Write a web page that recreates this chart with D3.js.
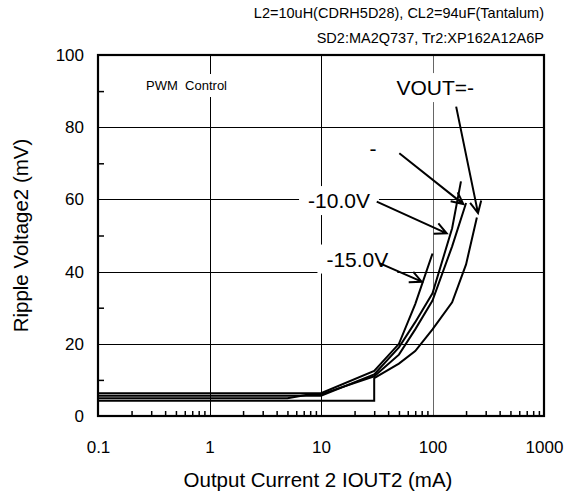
<!DOCTYPE html>
<html><head><meta charset="utf-8">
<script src="https://cdn.jsdelivr.net/npm/d3@7"></script>
<style>
html,body{margin:0;padding:0;background:#fff;}
svg text{font-family:"Liberation Sans",Arial,sans-serif;fill:#000;}
</style></head>
<body><svg id="c" width="578" height="492"></svg>
<script>
// ---- data ----
const xTickValues = [0.1, 1, 10, 100, 1000];
const xTickLabels = ["0.1", "1", "10", "100", "1000"];
const yTickValues = [0, 20, 40, 60, 80, 100];
const yTickLabels = ["0", "20", "40", "60", "80", "100"];

const seriesNames = ["-15.0V", "-10.0V", "-", "VOUT=-"];
const currentA = [0.1, 10, 30, 50, 70, 100];
const rippleA  = [6.3, 6.3, 12.5, 20, 31, 45];
const currentB = [0.1, 10, 30, 50, 70, 100, 150, 180];
const rippleB  = [5.6, 5.6, 11.5, 19, 26, 34, 52, 65];
const currentC = [0.1, 5, 8, 10, 30, 50, 70, 100, 150, 200];
const rippleC  = [4.9, 4.9, 6, 6, 11, 17, 24, 32, 47, 59];
const currentD = [0.1, 30, 30, 50, 70, 100, 150, 200, 250];
const rippleD  = [4.2, 4.2, 10.5, 14.5, 18, 24, 31.5, 42, 55];

const headerLines = ["L2=10uH(CDRH5D28), CL2=94uF(Tantalum)", "SD2:MA2Q737, Tr2:XP162A12A6P"];
const xTitle = "Output Current 2 IOUT2 (mA)";
const yTitle = "Ripple Voltage2 (mV)";
const noteText = "PWM  Control";
const noteX = 0.27, noteY = 90.3;
// annotation text anchors and arrows in data units (mA, mV)
const noteLabels = ["VOUT=-", "-", "-10.0V", "-15.0V"];
const noteLabelX = [106, 29.3, 14.5, 21.2];
const noteLabelY = [88.9, 72, 57.6, 41.4];
const arrowFromX = [163, 50.4, 31.6, 33.8];
const arrowFromY = [85.7, 72.8, 59.4, 42.3];
const arrowToX   = [256, 189, 134, 80];
const arrowToY   = [56.2, 58.7, 50.6, 37.2];

// ---- layout ----
const W = 578, H = 492;
const m = {left: 98, right: 34, top: 55, bottom: 76};
const svg = d3.select("#c");
const x = d3.scaleLog().domain([0.1, 1000]).range([m.left, W - m.right]);
const y = d3.scaleLinear().domain([0, 100]).range([H - m.bottom, m.top]);
const x0 = m.left, x1 = W - m.right, y0 = H - m.bottom, y1 = m.top;
const FONT = '"Liberation Sans",Arial,sans-serif';

// gridlines
const g = svg.append("g");
g.selectAll(".gx").data([1, 10, 100]).enter().append("line")
  .attr("x1", d => Math.round(x(d)) + 0.5).attr("x2", d => Math.round(x(d)) + 0.5)
  .attr("y1", y1).attr("y2", y0).attr("stroke", (d) => d === 100 ? "#666" : "#000").attr("stroke-width", 1);
g.selectAll(".gy").data([20, 40, 60, 80]).enter().append("line")
  .attr("y1", d => Math.round(y(d)) + 0.5).attr("y2", d => Math.round(y(d)) + 0.5)
  .attr("x1", x0).attr("x2", x1).attr("stroke", "#000").attr("stroke-width", 1);

// minor ticks bottom (inward)
const minor = [];
for (let e = -1; e < 3; e++) for (let k = 2; k <= 9; k++) minor.push(k * Math.pow(10, e));
const xAxis = d3.axisBottom(x).tickValues(minor).tickSize(-5).tickFormat("");
const xa = svg.append("g").attr("transform", `translate(0,${y0})`).call(xAxis);
xa.select(".domain").remove();
xa.selectAll("line").attr("stroke", "#000").attr("stroke-width", 1.5);
// minor ticks left (inward)
const yAxis = d3.axisLeft(y).tickValues([10, 30, 50, 70, 90]).tickSize(-6).tickFormat("");
const ya = svg.append("g").attr("transform", `translate(${x0},0)`).call(yAxis);
ya.select(".domain").remove();
ya.selectAll("line").attr("stroke", "#000").attr("stroke-width", 1.5);

// tick labels
const xl = d3.axisBottom(x).tickValues(xTickValues).tickSize(0).tickPadding(0)
  .tickFormat((d, i) => xTickLabels[i]);
const xlg = svg.append("g").attr("transform", `translate(0,${y0})`).call(xl);
xlg.select(".domain").remove();
xlg.selectAll("text").attr("y", 37).attr("dy", null).attr("font-size", 17)
  .style("font-family", FONT);
const yl = d3.axisLeft(y).tickValues(yTickValues).tickSize(0).tickPadding(14)
  .tickFormat((d, i) => yTickLabels[i]);
const ylg = svg.append("g").attr("transform", `translate(${x0},0)`).call(yl);
ylg.select(".domain").remove();
ylg.selectAll("text").attr("font-size", 17).style("font-family", FONT);

// PWM note with white box
const note = svg.append("g");
const nt = note.append("text").attr("x", x(noteX)).attr("y", y(noteY)).attr("font-size", 13)
  .style("white-space", "pre").text(noteText);
const nb = nt.node().getBBox();
note.insert("rect", "text").attr("x", nb.x - 6).attr("y", nb.y - 4)
  .attr("width", nb.width + 12).attr("height", nb.height + 8).attr("fill", "#fff");

// series
const line = d3.line().x(d => x(d[0])).y(d => y(d[1]));
const series = [
  d3.zip(currentA, rippleA), d3.zip(currentB, rippleB),
  d3.zip(currentC, rippleC), d3.zip(currentD, rippleD)
];
svg.append("g").selectAll("path").data(series).enter().append("path")
  .attr("d", line).attr("fill", "none").attr("stroke", "#000").attr("stroke-width", 2)
  .attr("stroke-linejoin", "miter");

// annotations with white boxes
const ann = svg.append("g");
noteLabels.forEach((t, i) => {
  const tx = ann.append("text").attr("x", x(noteLabelX[i])).attr("y", y(noteLabelY[i]))
    .attr("text-anchor", "middle").attr("font-size", 21).text(t);
  const bb = tx.node().getBBox();
  ann.insert("rect", "text").attr("x", bb.x - 9).attr("y", bb.y - 3)
    .attr("width", bb.width + 18).attr("height", bb.height + 6).attr("fill", "#fff");
});
// arrows
noteLabels.forEach((t, i) => {
  const ax = x(arrowFromX[i]), ay = y(arrowFromY[i]);
  const bx = x(arrowToX[i]), by = y(arrowToY[i]);
  const ang = Math.atan2(by - ay, bx - ax);
  const L = 13, sp = 0.45;
  const h1 = [bx - L * Math.cos(ang - sp), by - L * Math.sin(ang - sp)];
  const h2 = [bx - L * Math.cos(ang + sp), by - L * Math.sin(ang + sp)];
  ann.append("path")
    .attr("d", `M${ax},${ay}L${bx},${by}M${h1[0]},${h1[1]}L${bx},${by}L${h2[0]},${h2[1]}`)
    .attr("fill", "none").attr("stroke", "#000").attr("stroke-width", 2);
});

// frame
svg.append("rect").attr("x", x0).attr("y", y1).attr("width", x1 - x0).attr("height", y0 - y1)
  .attr("fill", "none").attr("stroke", "#000").attr("stroke-width", 2.2);

// texts
headerLines.forEach((t, i) => {
  svg.append("text").attr("x", x1).attr("y", 18 + i * 25).attr("text-anchor", "end")
    .attr("font-size", 14.5).text(t);
});
svg.append("text").attr("x", (x0 + x1) / 2 - 3).attr("y", 487).attr("text-anchor", "middle")
  .attr("font-size", 20.5).text(xTitle);
svg.append("text").attr("transform", `translate(28,${(y0 + y1) / 2}) rotate(-90)`)
  .attr("text-anchor", "middle").attr("font-size", 20.5).text(yTitle);
</script></body></html>
